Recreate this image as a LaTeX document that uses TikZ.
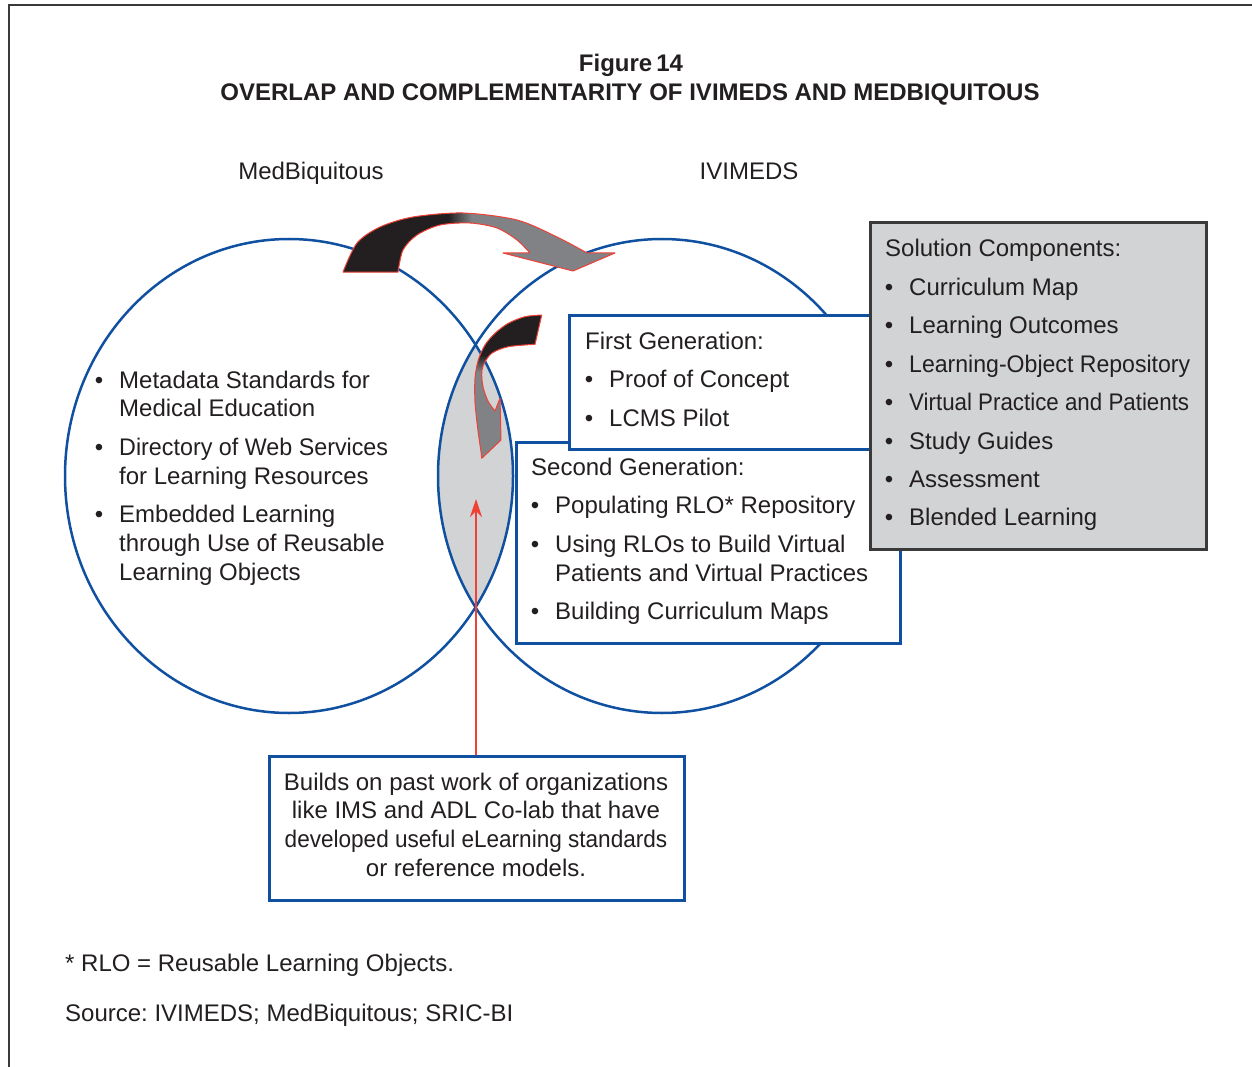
\documentclass[tikz,border=0pt]{standalone}
\usepackage{fontspec}
\usepackage{graphicx}
\setmainfont{Liberation Sans}
\usetikzlibrary{arrows.meta}
\definecolor{txt}{HTML}{231F20}
\definecolor{vblue}{RGB}{16,80,160}
\definecolor{lensgray}{HTML}{D1D3D4}
\definecolor{agray}{HTML}{808285}
\definecolor{ared}{HTML}{EF4136}
\definecolor{ablack}{HTML}{231F20}
\definecolor{framecol}{HTML}{3A3A3A}
\def\bigarrow{plot[smooth] coordinates {(343,272) (357,243) (380,227) (413,217) (463,213) (517,220) (557,237) (587,253)} -- (615,253) -- (573,271) -- (503,253) -- (530,253) -- plot[smooth] coordinates {(530,253) (517,240) (497,228) (470,223) (440,225) (417,235) (403,250) (398,272)} -- cycle}
\def\smallarrow{plot[smooth] coordinates {(541.7,315) (525,316.7) (508.3,323.3) (495,333.3) (485,345) (478.3,360) (475,378.3) (475,401.7) (477.7,428.3) (481,451.7) (481.7,458.3)} -- (501,440) -- (500,398.3) -- (495,411) -- plot[smooth] coordinates {(495,411) (488.3,401.7) (483.3,388.3) (481.7,375) (483.3,365) (491.7,353.3) (508.3,346.7) (535,344.3)} -- cycle}
\newcommand{\tight}[2]{\scalebox{#1}[1]{#2}}
\frenchspacing
\begin{document}
\begin{tikzpicture}[x=1pt,y=-1pt,
  every node/.style={text=txt,font=\fontsize{24}{29}\selectfont,inner sep=0pt},
  lbl/.style={anchor=base west},
  ctr/.style={anchor=base},
  bul/.style={anchor=base},
  vbox/.style={draw=vblue,line width=2.5pt,fill=white,anchor=north west,inner sep=0pt},
  circ/.style={draw=vblue,line width=2.5pt}]
\useasboundingbox (0,0) rectangle (1252,1067);
% frame
\draw[framecol,line width=1.5pt] (9,1067) -- (9,5) -- (1252,5);
% lens
\begin{scope}
  \clip (289,476) ellipse [x radius=224pt,y radius=237pt];
  \fill[lensgray] (662,476) ellipse [x radius=224pt,y radius=237pt];
\end{scope}
\draw[circ] (289,476) ellipse [x radius=224pt,y radius=237pt];
\draw[circ] (662,476) ellipse [x radius=224pt,y radius=237pt];
% boxes
\node[vbox,minimum width=384pt,minimum height=201pt] (sg) at (515,441) {};
\node[vbox,minimum width=331pt,minimum height=134pt] (fg) at (568,314) {};
\node[anchor=north west,draw=framecol,line width=2.8pt,fill=lensgray,minimum width=336pt,minimum height=327pt] (sc) at (869,221) {};
\node[vbox,minimum width=415pt,minimum height=144pt] (bb) at (268,755) {};
% big arrow
\fill[agray] \bigarrow;
\begin{scope}
  \clip \bigarrow;
  \fill[ablack] (330,200) rectangle (449,280);
  \shade[left color=ablack,right color=agray] (448,200) rectangle (472,280);
\end{scope}
\draw[ared,line width=1pt,line join=round] \bigarrow;
% small arrow
\fill[agray] \smallarrow;
\begin{scope}
  \clip \smallarrow;
  \fill[ablack] (460,300) rectangle (560,356);
  \shade[top color=ablack,bottom color=agray] (460,355) rectangle (560,372);
\end{scope}
\draw[ared,line width=1pt,line join=round] \smallarrow;
% red connector
\coordinate (tip) at (476,499);
\draw[ared,line width=2pt,-{Stealth[length=18pt,width=12pt]}] (bb.north -| tip) -- (tip);
% titles
\node[ctr,font=\bfseries\fontsize{24}{29}\selectfont] (fig) at (631,71.5) {Figure\,14};
\node[ctr,font=\bfseries\fontsize{24}{29}\selectfont] (ttl) at (630,100.5) {OVERLAP AND COMPLEMENTARITY OF IVIMEDS AND MEDBIQUITOUS};
\node[ctr] (mbl) at (311,179.5) {MedBiquitous};
\node[ctr] (ivl) at (749,179.5) {IVIMEDS};
% left circle text
\node[bul] (lb1) at (99,388.5) {\textbullet};
\node[bul] (lb2) at (99,455.5) {\textbullet};
\node[bul] (lb3) at (99,522.5) {\textbullet};
\node[lbl] (l1) at (119,388.5) {Metadata Standards for};
\node[lbl] (l2) at (119,416.5) {Medical Education};
\node[lbl] (l3) at (119,455.5) {\tight{0.971}{Directory of Web Services}};
\node[lbl] (l4) at (119,484.5) {for Learning Resources};
\node[lbl] (l5) at (119,522.5) {Embedded Learning};
\node[lbl] (l6) at (119,551.5) {through Use of Reusable};
\node[lbl] (l7) at (119,580.5) {Learning Objects};
% first generation
\node[lbl] (fgh) at (585,349.5) {First Generation:};
\node[bul] (fb1) at (589,387.5) {\textbullet};
\node[bul] (fb2) at (589,426) {\textbullet};
\node[lbl] (f1) at (609,387.5) {Proof of Concept};
\node[lbl] (f2) at (609,426) {LCMS Pilot};
% second generation
\node[lbl] (sgh) at (531,475) {Second Generation:};
\node[bul] (sb1) at (535,513) {\textbullet};
\node[bul] (sb2) at (535,552) {\textbullet};
\node[bul] (sb3) at (535,619.5) {\textbullet};
\node[lbl] (s1) at (555,513) {Populating RLO* Repository};
\node[lbl] (s2) at (555,552) {Using RLOs to Build Virtual};
\node[lbl] (s3) at (555,581) {Patients and Virtual Practices};
\node[lbl] (s4) at (555,619.5) {Building Curriculum Maps};
% solution components
\node[lbl] (sch) at (885,256.5) {Solution Components:};
\foreach \t [count=\i from 0] in {Curriculum Map,Learning Outcomes,\tight{0.962}{Learning-Object Repository},\tight{0.93}{Virtual Practice and Patients},Study Guides,Assessment,Blended Learning}{
  \node[bul] (cb\i) at (889,295.5+38.4*\i) {\textbullet};
  \node[lbl] (c\i) at (909,295.5+38.4*\i) {\t};
}
% bottom box text
\node[ctr] (b1) at (476,790) {Builds on past work of organizations};
\node[ctr] (b2) at (476,818.7) {like IMS and ADL Co-lab that have};
\node[ctr] (b3) at (476,847.4) {\tight{0.94}{developed useful eLearning standards}};
\node[ctr] (b4) at (476,876) {or reference models.};
% footnotes
\node[lbl] (fn1) at (65,971) {* RLO = Reusable Learning Objects.};
\node[lbl] (fn2) at (65,1021) {Source: IVIMEDS; MedBiquitous; SRIC-BI};
\end{tikzpicture}
\end{document}
